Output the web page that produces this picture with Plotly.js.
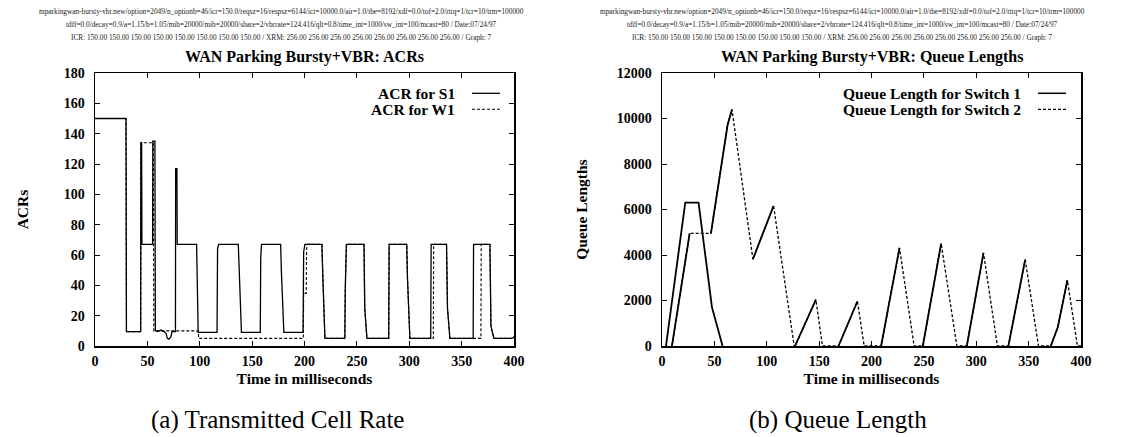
<!DOCTYPE html>
<html><head><meta charset="utf-8">
<script src="https://cdn.plot.ly/plotly-3.0.1.min.js"></script>
<style>html,body{margin:0;padding:0;background:#fff;} #chart{width:1145px;height:437px;}</style>
</head><body><div id="chart"></div>
<script>
// ---------- data ----------
const acrS1Time = [0,29.6,30,43.6,43.8,44.5,44.8,55,55.2,57.2,57.6,60,63,66,68,69,70.5,72.5,73.5,76.8,77,78.2,78.5,97,98.5,116.5,117,118,136.8,137.5,139.8,157.8,158.2,159,177.2,178,180.3,198.6,199.2,200.4,216.6,217.5,219.5,238.5,238.9,240,256.8,257.5,259.6,280.4,280.8,297.6,298.3,300.6,320.5,320.9,335.6,336.5,338.8,361,361.4,377,378,380.8,398,400];
const acrS1Value = [150,150,9.5,9.5,134,134,67,67,135,135,10,9.5,10.5,9.5,8,5,4.5,6,9.5,9.5,117,117,67,67,9,9,64,67,67,50,9,9,58,67,67,48,9,9,62,67,67,45,5,5,37,67,67,25,5,5,67,67,45,5,5,67,67,25,5,5,67,67,13,5,5,6];
const acrW1Time = [0,29.6,30,43.6,43.9,55.7,56.2,98.5,99,198.9,199.2,201.6,202,203,216.6,217.5,219.5,238.5,238.9,240,256.8,257.5,259.6,280.4,280.8,297.6,298.3,300.6,323,323.3,335.6,336.5,338.8,368.4,368.7,377,378,380.8,398,400];
const acrW1Value = [150,150,9.5,9.5,134,134,10,10,5,5,34.7,34.7,64,67,67,45,5,5,37,67,67,25,5,5,67,67,45,5,5,67,67,25,5,5,67,67,13,5,5,6];

const queueS1Time = [3.8,22.2,34.9,47.7,57.8,null,9.5,26.4,null,46.7,62.6,66.8,null,86.8,106.5,null,127,146.9,null,168.5,186.6,null,209.2,226.7,null,249,266.5,null,291,306.9,null,330.7,346.7,null,371.2,377.9,387];
const queueS1Value = [0,6300,6300,1700,0,null,0,4950,null,4950,9712,10400,null,3815,6160,null,0,2040,null,0,1967,null,0,4313,null,0,4505,null,0,4093,null,0,3800,null,0,836,2890];
const queueS2Time = [9.5,26.4,46.7,62.6,66.8,86.8,106.5,126.2,127,146.9,153.2,168.5,186.6,193,209.2,226.7,240.7,249,266.5,281.5,291,306.9,320.2,330.7,346.7,359.4,371.2,377.9,387,396.6,400];
const queueS2Value = [0,4950,4950,9712,10400,3815,6160,0,0,2040,0,0,1967,0,0,4313,0,0,4505,0,0,4093,0,0,3800,0,0,836,2890,0,0];

const acrSeriesNames = ["ACR for S1", "ACR for W1"];
const queueSeriesNames = ["Queue Length for Switch 1", "Queue Length for Switch 2"];
const chartTitles = ["WAN Parking Bursty+VBR: ACRs", "WAN Parking Bursty+VBR: Queue Lengths"];
const axisTitles = ["Time in milliseconds", "ACRs", "Queue Lengths"];
const captions = ["(a) Transmitted Cell Rate", "(b) Queue Length"];
const headerLines = [
  "mparkingwan-bursty-vbr.new/option=2049/n_optionb=46/icr=150.0/reqsz=16/respsz=6144/ict=10000.0/air=1.0/tbe=8192/xdf=0.0/tof=2.0/rttq=1/tcr=10/trm=100000",
  "tdff=0.0/decay=0.9/a=1.15/b=1.05/mib=20000/mib=20000/share=2/vbrrate=124.416/qlt=0.8/time_int=1000/sw_int=100/mcast=80 / Date:07/24/97",
  "ICR: 150.00 150.00 150.00 150.00 150.00 150.00 150.00 150.00 / XRM: 256.00 256.00 256.00 256.00 256.00 256.00 256.00 256.00 / Graph: 7"
];

// ---------- layout helpers ----------
const W = 1145, H = 437;
const px = x => x / W;
const py = y => 1 - y / H;
const SERIF = "Liberation Serif";
const boldFont = (s) => ({family: SERIF, size: s, color: "#000", weight: "bold"});
const dashPattern = "3px,2px";

const traces = [
  {x: acrS1Time, y: acrS1Value, name: acrSeriesNames[0], mode: "lines", xaxis: "x", yaxis: "y",
   line: {color: "#000", width: 1.3}},
  {x: acrW1Time, y: acrW1Value, name: acrSeriesNames[1], mode: "lines", xaxis: "x", yaxis: "y",
   line: {color: "#000", width: 1.1, dash: dashPattern}},
  {x: queueS1Time, y: queueS1Value, name: queueSeriesNames[0], mode: "lines", xaxis: "x2", yaxis: "y2",
   connectgaps: false, line: {color: "#000", width: 1.8}},
  {x: queueS2Time, y: queueS2Value, name: queueSeriesNames[1], mode: "lines", xaxis: "x2", yaxis: "y2",
   line: {color: "#000", width: 1.3, dash: dashPattern}}
];

const axisCommon = {
  showgrid: false, zeroline: false, showline: true, mirror: "ticks",
  linecolor: "#000", linewidth: 1.5, ticks: "inside", ticklen: 5, tickwidth: 1, tickcolor: "#000",
  tickfont: boldFont(14), tickformat: "d"
};
const yDomain = [py(346), py(73)];

const layout = {
  width: W, height: H, margin: {l: 0, r: 0, t: 0, b: 0},
  paper_bgcolor: "#fff", plot_bgcolor: "#fff", showlegend: false,
  xaxis: Object.assign({}, axisCommon, {domain: [px(95), px(514)], range: [0, 400], dtick: 50, anchor: "y",
    ticklabelstandoff: 2, title: {text: axisTitles[0], font: boldFont(15.5), standoff: 5}}),
  yaxis: Object.assign({}, axisCommon, {domain: yDomain, range: [0, 180], dtick: 20, anchor: "x",
    ticklabelstandoff: 6, title: {text: axisTitles[1], font: boldFont(15.5), standoff: 31}}),
  xaxis2: Object.assign({}, axisCommon, {domain: [px(662), px(1081)], range: [0, 400], dtick: 50, anchor: "y2",
    ticklabelstandoff: 2, title: {text: axisTitles[0], font: boldFont(15.5), standoff: 5}}),
  yaxis2: Object.assign({}, axisCommon, {domain: yDomain, range: [0, 12000], dtick: 2000, anchor: "x2",
    ticklabelstandoff: 6, title: {text: axisTitles[2], font: boldFont(15.5), standoff: 25}}),
  annotations: [],
  shapes: []
};

const headerY = [11, 24.3, 37.7];
[281, 842].forEach(cx => {
  headerLines.forEach((t, i) => layout.annotations.push({
    text: t, xref: "paper", yref: "paper", x: px(cx), y: py(headerY[i]), xanchor: "center", yanchor: "middle",
    showarrow: false, font: {family: SERIF, size: 7.3, color: "#222"}
  }));
});
[[304.5, chartTitles[0]], [871.5, chartTitles[1]]].forEach(([cx, t]) => layout.annotations.push({
  text: t, xref: "paper", yref: "paper", x: px(cx), y: py(57), xanchor: "center", yanchor: "middle",
  showarrow: false, font: boldFont(16)
}));
// gnuplot-style legends: right-aligned text followed by a line sample
const legendRows = [93.3, 109.3];
const legends = [
  {names: acrSeriesNames, textRight: 457, lineX: [472, 500], widths: [1.3, 1.1]},
  {names: queueSeriesNames, textRight: 1023, lineX: [1038, 1066], widths: [1.5, 1.3]}
];
legends.forEach(lg => {
  lg.names.forEach((n, i) => {
    layout.annotations.push({text: n, xref: "paper", yref: "paper", x: px(lg.textRight), y: py(legendRows[i]),
      xanchor: "right", yanchor: "middle", showarrow: false, font: boldFont(15.5)});
    layout.shapes.push({type: "line", xref: "paper", yref: "paper",
      x0: px(lg.lineX[0]), x1: px(lg.lineX[1]), y0: py(legendRows[i]), y1: py(legendRows[i]),
      line: {color: "#000", width: lg.widths[i], dash: i === 0 ? "solid" : dashPattern}});
  });
});
[[277, captions[0]], [838, captions[1]]].forEach(([cx, t]) => layout.annotations.push({
  text: t, xref: "paper", yref: "paper", x: px(cx), y: py(420), xanchor: "center", yanchor: "middle",
  showarrow: false, font: {family: SERIF, size: 25, color: "#000"}
}));

Plotly.newPlot("chart", traces, layout, {staticPlot: true, displayModeBar: false});
</script>
</body></html>
